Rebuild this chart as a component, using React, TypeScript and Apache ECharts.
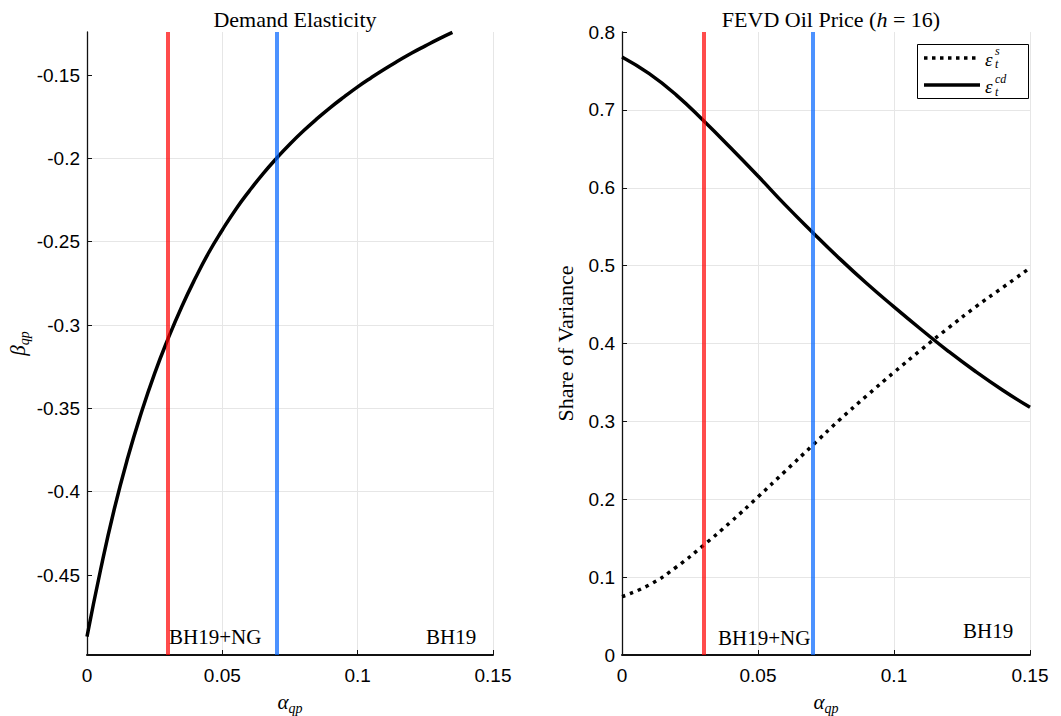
import React, { useEffect, useRef } from 'react';
import * as echarts from 'echarts';

// ---------- data ----------
const alphaLeft = [0, 0.005, 0.01, 0.015, 0.02, 0.025, 0.03, 0.035, 0.04, 0.045, 0.05, 0.055, 0.06, 0.065, 0.07, 0.075, 0.08, 0.085, 0.09, 0.095, 0.1, 0.105, 0.11, 0.115, 0.12, 0.125, 0.13, 0.135];
const betaLeft = [-0.487, -0.447, -0.411, -0.38, -0.353, -0.329, -0.308, -0.289, -0.272, -0.2565, -0.243, -0.2305, -0.2195, -0.2093, -0.2, -0.1914, -0.1835, -0.1762, -0.1694, -0.1631, -0.1571, -0.1516, -0.1464, -0.1415, -0.1368, -0.1325, -0.1283, -0.1244];

const alphaRight = [0, 0.01, 0.02, 0.03, 0.04, 0.05, 0.06, 0.07, 0.08, 0.09, 0.1, 0.11, 0.12, 0.13, 0.14, 0.15];
const shareSupply = [0.075, 0.09, 0.113, 0.141, 0.171, 0.203, 0.236, 0.269, 0.302, 0.333, 0.363, 0.392, 0.42, 0.447, 0.472, 0.497];
const shareDemand = [0.768, 0.7465, 0.719, 0.686, 0.651, 0.615, 0.578, 0.543, 0.509, 0.477, 0.447, 0.418, 0.39, 0.364, 0.34, 0.318];

const markerAlphas = [0.03, 0.07];
const markerColors = ['rgba(255,0,0,0.7)', 'rgba(0,100,255,0.7)'];

const leftYTicks = [-0.45, -0.4, -0.35, -0.3, -0.25, -0.2, -0.15];
const leftYMin = -0.498;
const leftYMax = -0.1242;

const titleLeft = 'Demand Elasticity';
const titleRight = 'FEVD Oil Price ({i|h} = 16)';
const yNameRight = 'Share of Variance';
const labelNG = 'BH19+NG';
const labelBH = 'BH19';

// ---------- styles ----------
const serif = '"Liberation Serif", "Times New Roman", serif';
const sans = '"Liberation Sans", Arial, sans-serif';
const gridColor = '#e6e6e6';
const axisColor = '#111';

const mathRich = {
  a: { fontFamily: serif, fontStyle: 'italic', fontSize: 21, color: '#000', lineHeight: 26, verticalAlign: 'middle' },
  s: { fontFamily: serif, fontStyle: 'italic', fontSize: 14, color: '#000', lineHeight: 14, verticalAlign: 'bottom' },
};

function xAxisDef(gridIndex: number) {
  return {
    type: 'value',
    gridIndex,
    min: 0,
    max: 0.15,
    interval: 0.05,
    axisLine: { show: true, onZero: false, lineStyle: { color: axisColor, width: 2 } },
    axisTick: { show: true, inside: true, length: 5, lineStyle: { color: axisColor, width: 1 } },
    axisLabel: { fontFamily: sans, fontSize: 19, color: '#000', margin: 11 },
    splitLine: { show: true, showMinLine: false, lineStyle: { color: gridColor, width: 1 } },
    name: '{a|α}{s|qp}',
    nameLocation: 'middle',
    nameGap: 34,
    nameTextStyle: { rich: mathRich },
  };
}

function zip(xs: number[], ys: number[]) {
  return xs.map((x, i) => [x, ys[i]]);
}

const markLine = {
  silent: true,
  symbol: ['none', 'none'],
  label: { show: false },
  animation: false,
  lineStyle: { width: 4, type: 'solid' },
  data: markerAlphas.map((a, i) => ({ xAxis: a, lineStyle: { color: markerColors[i], width: 4, type: 'solid' } })),
};

function text(x: number, y: number, t: string, font: string, align = 'left') {
  return {
    type: 'text',
    x,
    y,
    z: 100,
    style: { text: t, font, fill: '#000', align, verticalAlign: 'middle' },
  };
}

const option = {
  animation: false,
  backgroundColor: '#fff',
  title: [
    {
      text: titleLeft,
      left: 290,
      top: 3,
      textAlign: 'center',
      textStyle: { fontFamily: serif, fontWeight: 'normal', fontSize: 22, color: '#000' },
    },
    {
      text: titleRight,
      left: 826,
      top: 3,
      textAlign: 'center',
      textStyle: {
        fontFamily: serif,
        fontWeight: 'normal',
        fontSize: 22,
        color: '#000',
        rich: { i: { fontFamily: serif, fontStyle: 'italic', fontSize: 22, color: '#000' } },
      },
    },
  ],
  grid: [
    { left: 87, top: 32, width: 406, height: 623, outerBoundsMode: 'none', containLabel: false },
    { left: 622, top: 32, width: 408, height: 623, outerBoundsMode: 'none', containLabel: false },
  ],
  xAxis: [xAxisDef(0), xAxisDef(1)],
  yAxis: [
    {
      type: 'value',
      gridIndex: 0,
      min: leftYMin,
      max: leftYMax,
      axisLine: { show: true, onZero: false, lineStyle: { color: axisColor, width: 1.3 } },
      axisTick: { show: true, inside: true, length: 5, customValues: leftYTicks, lineStyle: { color: axisColor, width: 1 } },
      axisLabel: { fontFamily: sans, fontSize: 19, color: '#000', margin: 7, customValues: leftYTicks },
      splitLine: { show: true, showMinLine: false, showMaxLine: false, lineStyle: { color: gridColor, width: 1 } },
      name: '{a|β}{s|qp}',
      nameLocation: 'middle',
      nameGap: 56,
      nameTextStyle: { rich: mathRich },
    },
    {
      type: 'value',
      gridIndex: 1,
      min: 0,
      max: 0.8,
      interval: 0.1,
      axisLine: { show: true, onZero: false, lineStyle: { color: axisColor, width: 1.3 } },
      axisTick: { show: true, inside: true, length: 5, lineStyle: { color: axisColor, width: 1 } },
      axisLabel: { fontFamily: sans, fontSize: 19, color: '#000', margin: 7 },
      splitLine: { show: true, showMinLine: false, showMaxLine: false, lineStyle: { color: gridColor, width: 1 } },
      name: yNameRight,
      nameLocation: 'middle',
      nameGap: 46,
      nameTextStyle: { fontFamily: serif, fontSize: 22, color: '#000' },
    },
  ],
  series: [
    {
      type: 'line',
      name: 'beta',
      xAxisIndex: 0,
      yAxisIndex: 0,
      data: zip(alphaLeft, betaLeft),
      symbol: 'none',
      showSymbol: false,
      smooth: 0.5,
      lineStyle: { color: '#000', width: 3.5 },
      markLine,
    },
    {
      type: 'line',
      name: 'supply',
      xAxisIndex: 1,
      yAxisIndex: 1,
      data: zip(alphaRight, shareSupply),
      symbol: 'none',
      showSymbol: false,
      smooth: 0.5,
      lineStyle: { color: '#000', width: 3.5, type: [3.5, 5], cap: 'butt' },
    },
    {
      type: 'line',
      name: 'demand',
      xAxisIndex: 1,
      yAxisIndex: 1,
      data: zip(alphaRight, shareDemand),
      symbol: 'none',
      showSymbol: false,
      smooth: 0.5,
      lineStyle: { color: '#000', width: 3.5 },
      markLine,
    },
  ],
  graphic: [
    text(169, 637, labelNG, `21px ${serif}`),
    text(426, 637, labelBH, `21px ${serif}`),
    text(718, 638, labelNG, `21px ${serif}`),
    text(963, 631, labelBH, `21px ${serif}`),
    // legend
    {
      type: 'rect',
      z: 99,
      shape: { x: 917.5, y: 44.5, width: 111, height: 54 },
      style: { fill: '#fff', stroke: '#000', lineWidth: 1 },
    },
    {
      type: 'line',
      z: 100,
      shape: { x1: 924, y1: 58, x2: 980, y2: 58 },
      style: { stroke: '#000', lineWidth: 3.5, lineDash: [3.5, 4.5] },
    },
    {
      type: 'line',
      z: 100,
      shape: { x1: 924, y1: 85, x2: 980, y2: 85 },
      style: { stroke: '#000', lineWidth: 3.5 },
    },
    text(985, 59, 'ε', `italic 19px ${serif}`),
    text(995, 51, 's', `italic 12px ${serif}`),
    text(995, 64, 't', `italic 12px ${serif}`),
    text(985, 86, 'ε', `italic 19px ${serif}`),
    text(995, 79, 'cd', `italic 12px ${serif}`),
    text(995, 92, 't', `italic 12px ${serif}`),
  ],
};

export default function App() {
  const ref = useRef<HTMLDivElement>(null);
  useEffect(() => {
    document.body.style.margin = '0';
    const chart = echarts.init(ref.current!, null, { renderer: 'svg' });
    chart.setOption(option as any);
    return () => chart.dispose();
  }, []);
  return <div ref={ref} style={{ width: 1061, height: 716 }} />;
}
